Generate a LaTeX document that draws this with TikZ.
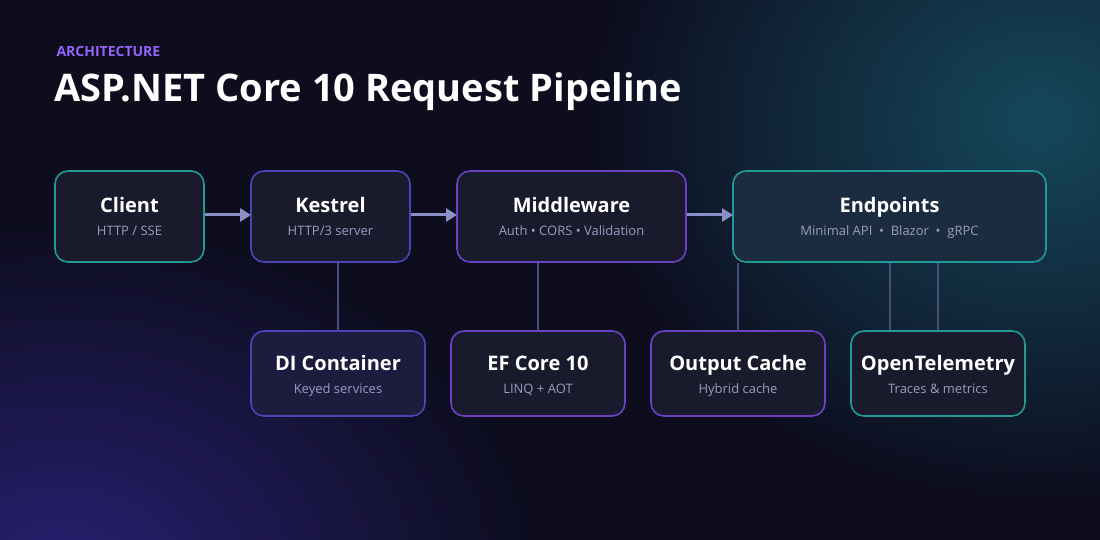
\documentclass[tikz,border=0pt]{standalone}
\usepackage{fontspec}
\setmainfont{Open Sans}
\usetikzlibrary{arrows.meta,fadings}
\tikzfading[name=glow,inner color=transparent!0,outer color=transparent!100]
\definecolor{bg}{HTML}{0D0D1E}
\definecolor{teal}{HTML}{1F9A95}
\definecolor{indig}{HTML}{4A44B5}
\definecolor{purp}{HTML}{6A40C4}
\definecolor{boxfill}{HTML}{1A1A2D}
\definecolor{subc}{HTML}{9A9CC0}
\definecolor{conn}{HTML}{4C4C7C}
\definecolor{arr}{HTML}{8A8FC8}
\begin{document}
\begin{tikzpicture}[x=1pt,y=-1pt,
  box/.style={draw=#1,line width=1.6pt,rounded corners=13pt,fill=boxfill},
  ttl/.style={text=white,font=\bfseries\fontsize{20}{22}\selectfont,anchor=base},
  sub/.style={text=subc,font=\fontsize{13}{15}\selectfont,anchor=base},
  link/.style={draw=conn,line width=1.4pt},
  flow/.style={draw=arr,line width=3pt,-{Triangle[length=11pt,width=13pt]}}]
\useasboundingbox (0,0) rectangle (1100,540);
\fill[bg] (0,0) rectangle (1100,540);
\begin{scope}
\clip (0,0) rectangle (1100,540);
\fill[color={rgb,255:red,22;green,72;blue,92},path fading=glow] (1040,120) ellipse (450 and 380);
\fill[color={rgb,255:red,42;green,32;blue,115},path fading=glow] (60,580) ellipse (480 and 360);
\end{scope}
\node[anchor=west,text={rgb,255:red,150;green,100;blue,250},font=\bfseries\fontsize{14}{16}\selectfont] (lab) at (53,52) {ARCHITECTURE};
\node[anchor=west,text=white,font=\bfseries\fontsize{38}{44}\selectfont] (title) at (51,92) {ASP.NET Core 10 Request Pipeline};
% boxes
\path[box=teal] (55,171) rectangle (204,262); \coordinate (c) at (129.5,216.5);
\path[box=indig] (251,171) rectangle (410,262); \coordinate (k) at (330.5,216.5);
\path[box=purp] (457,171) rectangle (686,262); \coordinate (m) at (571.5,216.5);
\path[box=teal,fill={rgb,255:red,28;green,44;blue,64}] (733,171) rectangle (1046,262); \coordinate (e) at (889.5,216.5);
\path[box=indig,fill={rgb,255:red,30;green,28;blue,62}] (251,331) rectangle (425,416); \coordinate (d) at (338,373.5);
\path[box=purp] (451,331) rectangle (625,416); \coordinate (f) at (538,373.5);
\path[box=purp] (651,331) rectangle (825,416); \coordinate (o) at (738,373.5);
\path[box=teal] (851,331) rectangle (1025,416); \coordinate (t) at (938,373.5);
\node[ttl] (n1) at (129.5,213) {Client}; \node[sub] (s1) at (129.5,236) {HTTP / SSE};
\node[ttl] (n2) at (330.5,213) {Kestrel}; \node[sub] (s2) at (330.5,236) {HTTP/3 server};
\node[ttl] (n3) at (571.5,213) {Middleware}; \node[sub] (s3) at (571.5,236) {Auth • CORS • Validation};
\node[ttl] (n4) at (889.5,213) {Endpoints}; \node[sub] (s4) at (889.5,236) {Minimal API ~•~ Blazor ~•~ gRPC};
\node[ttl] (n5) at (338,370) {DI Container}; \node[sub] (s5) at (338,393) {Keyed services};
\node[ttl] (n6) at (538,370) {EF Core 10}; \node[sub] (s6) at (538,393) {LINQ + AOT};
\node[ttl] (n7) at (738,370) {Output Cache}; \node[sub] (s7) at (738,393) {Hybrid cache};
\node[ttl] (n8) at (938,370) {OpenTelemetry}; \node[sub] (s8) at (938,393) {Traces \& metrics};
% connectors
\coordinate (a1) at (205,215); \coordinate (a2) at (251,215);
\coordinate (a3) at (411,215); \coordinate (a4) at (457,215);
\coordinate (a5) at (687,215); \coordinate (a6) at (733,215);
\draw[flow] (a1) -- (a2); \draw[flow] (a3) -- (a4); \draw[flow] (a5) -- (a6);
\coordinate (k1) at (338,263); \coordinate (k2) at (338,330);
\coordinate (m1) at (538,263); \coordinate (m2) at (538,330);
\coordinate (e1) at (738,263); \coordinate (e2) at (738,330);
\coordinate (e3) at (890,263); \coordinate (e4) at (890,330);
\coordinate (e5) at (938,263); \coordinate (e6) at (938,330);
\draw[link] (k1) -- (k2); \draw[link] (m1) -- (m2); \draw[link] (e1) -- (e2);
\draw[link] (e3) -- (e4); \draw[link] (e5) -- (e6);
\end{tikzpicture}
\end{document}
